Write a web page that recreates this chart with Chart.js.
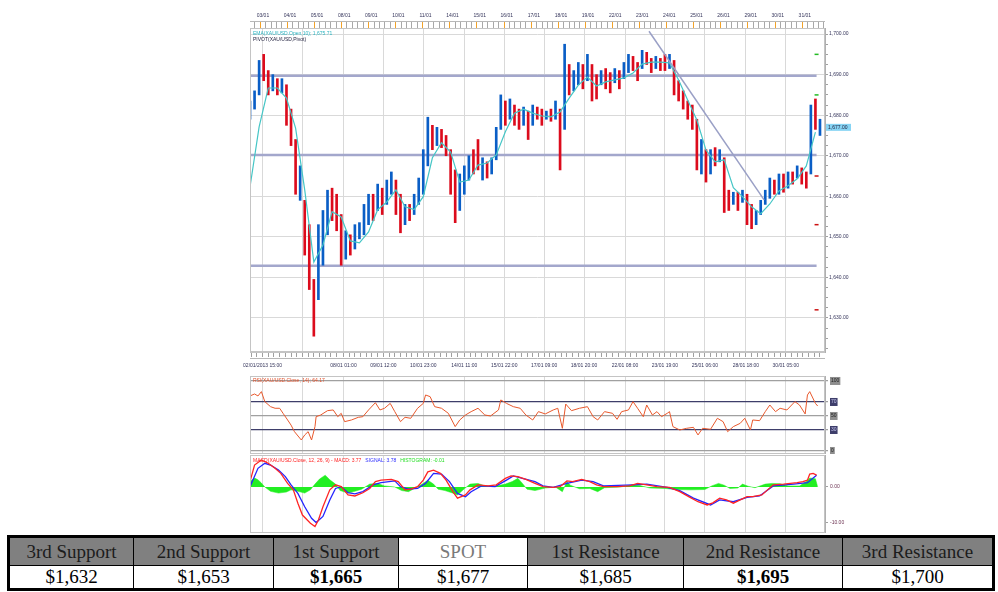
<!DOCTYPE html>
<html>
<head>
<meta charset="UTF-8">
<title>XAU/USD hourly – pivots, RSI, MACD</title>
<script src="https://cdn.jsdelivr.net/npm/chart.js"></script>
<style>
  body { margin: 0; background: #fff; width: 998px; height: 592px; position: relative; overflow: hidden; }
  canvas { position: absolute; }
  #priceChart { left: 240px; top: 0; }
  #rsiChart { left: 240px; top: 376px; }
  #macdChart { left: 240px; top: 455px; }
  #levels {
    position: absolute; left: 7px; top: 535px; width: 987px;
    border-collapse: collapse; table-layout: fixed;
    border: 3px solid #000;
    font-family: 'Liberation Serif', 'DejaVu Serif', serif; font-size: 19px;
  }
  #levels td { border: 1.5px solid #000; text-align: center; padding: 0; line-height: 20px; }
  #levels tr.head td { background: #808080; color: #1c1c1c; height: 27px; }
  #levels tr.head td.spot { background: #fff; color: #7a7a7a; }
  #levels tr.vals td { background: #fff; color: #000; height: 22px; }
  #levels tr.vals td.strong { font-weight: bold; }
</style>
</head>
<body>

<canvas id="priceChart" width="612" height="376"></canvas>
<canvas id="rsiChart" width="612" height="78"></canvas>
<canvas id="macdChart" width="612" height="78"></canvas>

<table id="levels">
  <colgroup>
    <col style="width:125px"><col style="width:140px"><col style="width:125px"><col style="width:129px">
    <col style="width:156px"><col style="width:159px"><col style="width:151px">
  </colgroup>
  <tr class="head"></tr>
  <tr class="vals"></tr>
</table>

<script>
// x values are trading hours counted from 02/01 15:00
const xMax = 504.4;

// price bars, one every 4 hours: [open, close]
const barStep = 4;
const barOpen = [
  1679, 1681.5, 1685, 1695, 1691, 1686, 1689, 1685.5, 1687.5, 1681.5,
  1674, 1659, 1659, 1653, 1639.5, 1634.5, 1643, 1650.5, 1662, 1660.5,
  1655.5, 1644.5, 1650.5, 1647, 1649.5, 1650.5, 1653, 1660.5, 1656.5, 1662,
  1658, 1660.5, 1664, 1660.5, 1653, 1658, 1655.5, 1658, 1660.5, 1667.5,
  1677.5, 1672.5, 1676.5, 1675, 1671.5, 1666.5, 1656.5, 1660.5, 1664, 1671.5,
  1674, 1664, 1668.5, 1665.5, 1669, 1676.5, 1683.5, 1679, 1682.5, 1681.5,
  1677.5, 1681, 1677.5, 1682, 1681.5, 1679, 1681.5, 1679, 1681.5, 1676.5,
  1692.5, 1686, 1687.5, 1692.5, 1688.5, 1692.5, 1690, 1687.5, 1691.5, 1690.5,
  1688, 1691, 1689, 1690.5, 1694.5, 1693, 1691.5, 1695.5, 1694, 1691.5,
  1694, 1695, 1691.5, 1693.5, 1688.5, 1686, 1683.5, 1682.5, 1679, 1665.5,
  1671.5, 1665.5, 1672, 1668.5, 1669.5, 1661.5, 1658, 1661, 1658.5, 1660.5,
  1658, 1653, 1655.5, 1658, 1659.5, 1664, 1660.5, 1665.5, 1662, 1666,
  1664.5, 1667, 1666, 1665.5, 1684, 1675
];
const barClose = [
  1683.5, 1686, 1693.5, 1688.5, 1685, 1690, 1685, 1689, 1677.5, 1672.5,
  1660.5, 1667.5, 1645.5, 1637, 1625.5, 1653, 1656.5, 1661.5, 1654, 1651.5,
  1643, 1651.5, 1645.5, 1653, 1653.5, 1658, 1660.5, 1654, 1663, 1655.5,
  1664, 1666, 1655.5, 1651, 1658, 1654, 1660.5, 1664.5, 1671.5, 1679.5,
  1671.5, 1677, 1672, 1670, 1660.5, 1653.5, 1665.5, 1667.5, 1670, 1665.5,
  1666.5, 1669.5, 1664.5, 1669.5, 1677, 1685, 1677.5, 1684, 1677.5, 1676.5,
  1682, 1674, 1682.5, 1679, 1677.5, 1681, 1678.5, 1683.5, 1666.5, 1697.5,
  1685, 1691, 1693, 1686.5, 1695, 1683.5, 1684, 1691, 1686.5, 1685.5,
  1691.5, 1686.5, 1693, 1695, 1691, 1688.5, 1696, 1692.5, 1690.5, 1694.5,
  1691, 1691, 1695, 1685, 1683.5, 1681.5, 1679, 1676.5, 1666.5, 1674,
  1663.5, 1671.5, 1667.5, 1671.5, 1656, 1656.5, 1661, 1656.5, 1661.5, 1653,
  1652, 1656.5, 1659, 1661.5, 1664.5, 1660.5, 1665.5, 1661, 1666, 1663,
  1667.5, 1663, 1662, 1682.5, 1676.5, 1679
];

// EMA(Open,10), one value every 8 hours
const emaStep = 8;
const emaValues = [
  1662.3, 1677.1, 1686.7, 1686.7, 1684.2, 1676.8, 1661.6, 1643.8, 1648, 1656.2,
  1654.9, 1649, 1648.5, 1651.2, 1656.7, 1658.6, 1661.6, 1657.4, 1656.7, 1659.9,
  1669.5, 1673.2, 1670.9, 1663.5, 1664, 1667.7, 1668.2, 1670.2, 1675.9, 1680.5,
  1681.5, 1680.5, 1679.8, 1679.6, 1680.8, 1684.2, 1687.4, 1689.4, 1687.2, 1688.2,
  1688.7, 1689.2, 1690.4, 1692.6, 1693.1, 1693.1, 1692.9, 1688.7, 1683.7, 1678.8,
  1671.4, 1668.5, 1669, 1662.1, 1659.9, 1657.4, 1655.7, 1658.1, 1661.3, 1662.6,
  1664.3, 1667.5, 1675.8
];
const emaLast = '1,675.71';

const pivotLevels = [1689.7, 1670.2, 1642.9];
const pivotEnd = 497;
const trendHours = [350, 451];
const trendPrices = [1700.7, 1659.1];

// key levels (also used for the table)
const levelNames = ['3rd Support', '2nd Support', '1st Support', 'SPOT', '1st Resistance', '2nd Resistance', '3rd Resistance'];
const levelValues = [1632, 1653, 1665, 1677, 1685, 1695, 1700];
const boldLevels = ['1st Support', '2nd Resistance'];
const supportMarks = [1632, 1653, 1665];
const resistanceMarks = [1685, 1695];
const markerHour = 497;
const spotPrice = 1677;

// axis labels
const dayLabels = ['03/01', '04/01', '05/01', '08/01', '09/01', '10/01', '11/01', '14/01', '15/01', '16/01', '17/01',
                   '18/01', '19/01', '22/01', '23/01', '24/01', '25/01', '26/01', '29/01', '30/01', '31/01'];
const firstDayHour = 9;
const timeLabels = ['02/01/2013 15:00', '', '08/01 01:00', '09/01 12:00', '10/01 23:00', '14/01 11:00', '15/01 22:00',
                    '17/01 09:00', '18/01 20:00', '22/01 08:00', '23/01 19:00', '25/01 06:00', '28/01 18:00', '30/01 05:00'];
const timeHours = [11, 46, 82, 117, 152, 188, 223, 258, 293, 329, 364, 399, 435, 470];

// RSI(14)
const rsiHours = [0, 4, 7, 10, 13, 18, 22, 26, 29, 33, 36, 39, 45, 48, 51, 54, 57, 58, 62, 68,
  73, 77, 80, 83, 89, 95, 99, 104, 110, 114, 118, 123, 127, 132, 136, 141, 147, 152, 154, 158,
  162, 168, 174, 180, 184, 189, 194, 200, 206, 211, 218, 220, 225, 231, 237, 242, 248, 253, 259, 266,
  270, 274, 277, 282, 289, 296, 301, 305, 311, 318, 322, 326, 332, 336, 340, 345, 348, 353, 357, 361,
  366, 368, 371, 377, 383, 389, 393, 397, 404, 410, 415, 419, 424, 430, 434, 439, 441, 447, 452, 456,
  461, 465, 471, 478, 482, 487, 489, 491, 496, 498];
const rsiValues = [78.6, 81.4, 78.6, 84.8, 70.5, 63.3, 61, 61, 53.8, 44.3, 37, 27.6, 15.7, 22.9, 27.6, 15.7, 34.8, 49, 51.4, 57.6,
  58.6, 49, 53.8, 41.9, 44.3, 48.1, 49, 58.6, 69, 58.6, 61, 68, 56.2, 41.9, 48.1, 46.7, 61, 68, 80, 77.6,
  63.3, 61, 53.8, 34.8, 44.3, 51.4, 56.2, 61, 51.4, 50, 58.6, 72.9, 68, 63.3, 61, 51.4, 44.3, 56.2, 52.9, 58.6,
  61, 32.4, 67, 57.6, 61, 63.3, 49, 44.3, 56.2, 53.8, 45.2, 56.2, 58.6, 70.5, 61, 49, 65.7, 51.4, 56.2, 49,
  53.8, 56.2, 34.8, 30, 32.4, 33.8, 22.9, 32.4, 31, 46.7, 41.9, 27.6, 34.8, 39.5, 46.7, 30, 44.3, 43.3, 56.2, 65.7,
  56.2, 61, 58.6, 70.5, 65.7, 52.9, 80, 84.8, 68, 64.2];
const rsiLevels = [0, 30, 50, 70, 100];

// MACD(12,26,9)
const macdHours = [0, 4, 10, 16, 22, 27, 33, 38, 42, 46, 53, 57, 60, 64, 70, 75, 80, 86, 92, 99,
  105, 110, 115, 124, 130, 136, 141, 147, 152, 156, 161, 167, 172, 178, 182, 189, 193, 200, 209, 216,
  224, 229, 235, 242, 250, 257, 266, 272, 278, 283, 291, 298, 304, 310, 322, 333, 340, 348, 357, 368,
  377, 386, 393, 401, 406, 412, 418, 424, 430, 436, 441, 449, 454, 459, 468, 480, 485, 489, 491, 494, 497];
const macdValues = [1.5, 6.1, 7.5, 6.6, 5.2, 3.8, 1.0, -0.8, -4.5, -7.8, -10.1, -11.0, -9.2, -5.5, -0.8, 0.6, 0.1, -2.2, -2.5, -1.6,
  -0.4, 1.5, 1.9, 2.1, 1.5, -0.8, -0.6, 0.1, 1.9, 4.2, 4.7, 3.8, 1.9, -1.3, -3.1, -2.2, -0.8, 0.6, 0.3, 0.6,
  2.4, 3.1, 2.9, 2.1, 1.0, 0.1, -0.1, 0.1, 1.7, 1.5, 2.1, 1.5, 0.6, 0.1, 0.1, 0.3, 1.0, 0.6, 0.1, -0.1,
  -1.3, -2.9, -4.1, -5.0, -4.4, -3.1, -3.6, -4.5, -3.6, -2.7, -2.7, -2.2, -0.8, 0.6, 0.8, 1.2, 1.5, 1.9, 3.6, 3.8, 3.3];
const signalHours = [0, 7, 13, 18, 25, 31, 36, 42, 48, 54, 58, 64, 70, 75, 80, 86, 92, 99, 108, 115,
  127, 132, 139, 147, 154, 161, 168, 175, 182, 189, 194, 203, 215, 225, 231, 239, 250, 257, 266, 278,
  291, 301, 310, 336, 348, 366, 377, 389, 404, 412, 424, 436, 447, 459, 477, 489, 497];
const signalValues = [0.1, 5.2, 6.6, 6.1, 4.7, 2.9, 0.6, -1.8, -5.5, -8.7, -9.9, -8.2, -3.6, -0.4, 0.1, -1.6, -1.9, -1.3, 0.6, 1.2,
  1.7, 0.1, -0.6, -0.4, 1.0, 3.8, 3.6, 1.5, -1.8, -2.7, -1.3, 0.3, 0.1, 1.9, 3.1, 2.4, 1.5, 0.3, -0.1, 1.0,
  1.9, 1.5, 0.3, 0.6, 0.8, -0.1, -1.0, -3.1, -5.0, -3.6, -4.1, -2.9, -2.5, 0.3, 0.8, 1.2, 3.3];
const histHours = [0, 4, 7, 10, 13, 18, 25, 32, 36, 42, 48, 53, 57, 61, 66, 70, 75, 79, 86, 92,
  98, 105, 112, 118, 127, 133, 139, 145, 151, 156, 161, 165, 171, 177, 182, 188, 193, 200, 206, 215,
  224, 230, 235, 239, 243, 250, 259, 268, 274, 278, 281, 289, 298, 305, 311, 325, 335, 342, 351, 364,
  373, 386, 399, 405, 411, 416, 421, 428, 432, 437, 443, 452, 458, 465, 472, 482, 488, 491, 496, 498];
const histValues = [1.5, 2.5, 2.0, 1.1, 0, -1.2, -1.7, -1.4, -0.8, -1.2, -1.7, -0.8, 0.8, 2.2, 3.3, 2.0, 0.8, -1.0, -1.7, -1.2,
  -0.6, 0.8, 1.0, 0.3, 0, -1.0, -1.3, -0.3, 0.8, 1.9, 0.8, -0.6, -1.0, -1.6, -2.2, -0.5, 0.8, 1.0, 0.3, 0.2,
  0.8, 1.5, 2.4, 1.0, -0.6, -1.0, -0.3, 0, -1.3, 1.5, 0.5, -0.5, -0.4, -1.3, -0.2, 0, 0.6, 0.4, -0.3, -0.4,
  -0.7, -0.8, -0.7, 0.3, 1.0, 0.5, -0.4, -0.3, 0.8, 0.2, -0.2, 0.8, 1.0, 0.9, 0.3, 0.3, 1.5, 2.5, 2.3, 0];
const macdLegend = [
  ['MACD(XAU/USD.Close, 12, 26, 9) - MACD: 3.77', '#ff2020'],
  ['SIGNAL: 3.78', '#2a2aff'],
  ['HISTOGRAM: -0.01', '#20dd20']
];

// ---------------------------------------------------------------
const upColor = '#0a5ec6';
const downColor = '#dc0b1c';
const gridColor = '#d9d9d9';
const axisText = '#34345a';
const tiny = { family: 'Liberation Sans', size: 5 };
Chart.defaults.font.family = 'Liberation Sans';

const pts = (xs, ys) => ys.map((v, i) => ({ x: xs[i], y: v }));
const fmt = v => v.toLocaleString('en-US', { minimumFractionDigits: 2, maximumFractionDigits: 2 });
const majorX = v => timeHours.includes(v);

// ruler ticks
const dayHours = dayLabels.map((d, k) => firstDayHour + 24 * k);
const topTicks = [];
for (let h = firstDayHour - 4.8; h <= xMax; h += 4.8) topTicks.push(Math.round(h * 10) / 10);
const bottomTicks = [1, 6];
timeHours.forEach(h => { for (let j = 0; j < 7; j++) if (h + 5 * j <= xMax) bottomTicks.push(h + 5 * j); });
const priceTicks = [];
for (let p = 1622.5; p <= 1700; p += 2.5) priceTicks.push(p);

function panelX(extra) {
  return Object.assign({
    type: 'linear', min: 0, max: xMax, offset: false,
    afterBuildTicks: s => { s.ticks = timeHours.map(v => ({ value: v })); },
    ticks: { display: false },
    grid: { color: gridColor, drawTicks: false, offset: false },
    border: { display: false },
    afterFit: s => { s.height = 0; s.paddingLeft = 0; s.paddingRight = 0; }
  }, extra || {});
}

const frame = {
  id: 'frame',
  afterDraw(chart) {
    const { ctx, chartArea: a } = chart;
    ctx.save();
    ctx.strokeStyle = '#c4c4c4';
    ctx.lineWidth = 1;
    ctx.strokeRect(a.left + 0.5, a.top + 0.5, a.width - 1, a.height - 1);
    ctx.restore();
  }
};

// ---------------- price panel ----------------
const priceExtras = {
  id: 'priceExtras',
  afterDraw(chart) {
    const { ctx, chartArea: a, scales } = chart;
    ctx.save();
    // rulers above and below the plot
    ctx.strokeStyle = '#b8b8b8';
    ctx.lineWidth = 1;
    ctx.beginPath();
    ctx.moveTo(a.left, a.top - 6.5); ctx.lineTo(a.right, a.top - 6.5);
    ctx.moveTo(a.left, a.bottom + 6.5); ctx.lineTo(a.right, a.bottom + 6.5);
    ctx.stroke();
    // indicator legend
    ctx.font = '5px "Liberation Sans"';
    ctx.textBaseline = 'middle';
    ctx.fillStyle = '#2cb4c0';
    ctx.fillText('EMA(XAU/USD.Open,10); ' + emaLast, a.left + 3, a.top + 6);
    ctx.fillStyle = '#1e1e3c';
    ctx.fillText('PIVOT(XAU/USD,Pivot)', a.left + 3, a.top + 12);
    // spot price tag on the axis
    const y = scales.y.getPixelForValue(spotPrice);
    ctx.fillStyle = '#86d4f4';
    ctx.fillRect(a.right + 1, y - 3.5, 25, 7);
    ctx.fillStyle = '#1e1e3c';
    ctx.fillText(fmt(spotPrice), a.right + 3, y);
    ctx.restore();
  }
};

new Chart(document.getElementById('priceChart'), {
  type: 'bar',
  data: {
    datasets: [
      ...pivotLevels.map(p => ({
        type: 'line', data: [{ x: 0, y: p }, { x: pivotEnd, y: p }],
        borderColor: '#a3a7cc', borderWidth: 2.5, pointRadius: 0, order: 6
      })),
      {
        type: 'bar',
        data: barOpen.map((o, i) => ({ x: i * barStep, y: [o, barClose[i]] })),
        backgroundColor: c => (c.raw && c.raw.y[1] >= c.raw.y[0]) ? upColor : downColor,
        barThickness: 2, borderWidth: 0, grouped: false, order: 5
      },
      {
        type: 'line', data: emaValues.map((v, i) => ({ x: i * emaStep, y: v })),
        borderColor: '#45c6c6', borderWidth: 1.2, pointRadius: 0, tension: 0, order: 3
      },
      {
        type: 'line', data: pts(trendHours, trendPrices),
        borderColor: '#9aa0c6', borderWidth: 1.5, pointRadius: 0, order: 2
      },
      {
        type: 'line', showLine: false,
        data: [...resistanceMarks, ...supportMarks].map(v => ({ x: markerHour, y: v })),
        pointStyle: 'line', pointRadius: 2, pointBorderWidth: 1.5,
        pointBorderColor: [...resistanceMarks.map(() => '#22bb22'), ...supportMarks.map(() => '#cc1010')],
        order: 1
      }
    ]
  },
  options: {
    responsive: false, animation: false, devicePixelRatio: 1,
    layout: { padding: { left: 10, right: 0, top: 0, bottom: 0 } },
    plugins: { legend: { display: false }, tooltip: { enabled: false } },
    scales: {
      x: {
        type: 'linear', position: 'bottom', min: 0, max: xMax, offset: false,
        afterBuildTicks: s => { s.ticks = bottomTicks.map(v => ({ value: v })); },
        ticks: {
          autoSkip: false, maxRotation: 0, font: tiny, color: axisText, padding: 6,
          callback: v => { const i = timeHours.indexOf(v); return i >= 0 ? timeLabels[i] : ''; }
        },
        grid: {
          offset: false, tickLength: 5, tickColor: '#a0a0a0',
          color: c => (c.tick && majorX(c.tick.value)) ? gridColor : 'rgba(0,0,0,0)'
        },
        border: { color: '#c4c4c4' },
        afterFit: s => { s.height = 24; s.paddingLeft = 0; s.paddingRight = 0; }
      },
      xTop: {
        type: 'linear', position: 'top', min: 0, max: xMax,
        afterBuildTicks: s => { s.ticks = topTicks.map(v => ({ value: v })); },
        ticks: {
          autoSkip: false, maxRotation: 0, font: tiny, color: axisText, padding: 3,
          callback: v => { const i = dayHours.indexOf(v); return i >= 0 ? dayLabels[i] : ''; }
        },
        grid: {
          drawOnChartArea: false, tickLength: 6, tickWidth: 1,
          tickColor: c => (c.tick && dayHours.includes(c.tick.value)) ? '#f2a228' : '#a8a8a8'
        },
        border: { color: '#c4c4c4' },
        afterFit: s => { s.height = 28; s.paddingLeft = 0; s.paddingRight = 0; }
      },
      y: {
        type: 'linear', position: 'right', min: 1621.6, max: 1701.5,
        afterBuildTicks: s => { s.ticks = priceTicks.map(v => ({ value: v })); },
        ticks: {
          autoSkip: false, font: tiny, color: axisText, padding: 1,
          callback: v => v % 10 === 0 ? fmt(v) : ''
        },
        grid: {
          tickLength: 3, tickColor: '#a0a0a0',
          color: c => (c.tick && c.tick.value % 10 === 0) ? gridColor : 'rgba(0,0,0,0)'
        },
        border: { color: '#b0b0b0' },
        afterFit: s => { s.width = 27; s.paddingTop = 0; s.paddingBottom = 0; }
      }
    }
  },
  plugins: [frame, priceExtras]
});

// ---------------- RSI panel ----------------
const rsiExtras = {
  id: 'rsiExtras',
  afterDraw(chart) {
    const { ctx, chartArea: a } = chart;
    ctx.save();
    ctx.font = '5px "Liberation Sans"';
    ctx.textBaseline = 'middle';
    ctx.fillStyle = '#e0502a';
    ctx.fillText('RSI(XAU/USD.Close, 14); 64.17', a.left + 3, a.top + 5);
    ctx.restore();
  }
};

new Chart(document.getElementById('rsiChart'), {
  type: 'line',
  data: {
    datasets: [{
      data: pts(rsiHours, rsiValues),
      borderColor: '#e8582c', borderWidth: 1, pointRadius: 0, tension: 0
    }]
  },
  options: {
    responsive: false, animation: false, devicePixelRatio: 1,
    layout: { padding: { left: 10, right: 0, top: 0, bottom: 0 } },
    plugins: { legend: { display: false }, tooltip: { enabled: false } },
    scales: {
      x: panelX(),
      y: {
        type: 'linear', position: 'right', min: -4.3, max: 107.1,
        afterBuildTicks: s => { s.ticks = rsiLevels.map(v => ({ value: v })); },
        ticks: {
          autoSkip: false, font: tiny, padding: 3,
          showLabelBackdrop: true, backdropPadding: 1,
          backdropColor: c => (c.tick.value === 30 || c.tick.value === 70) ? '#3e3e6a' : '#8e8e8e',
          color: c => (c.tick.value === 30 || c.tick.value === 70) ? '#c8c8f0' : '#202020'
        },
        grid: {
          tickLength: 3, lineWidth: 1.2, tickColor: '#a0a0a0',
          color: c => (c.tick && (c.tick.value === 30 || c.tick.value === 70)) ? '#3e3e6a' : '#a0a0a0'
        },
        border: { color: '#b0b0b0' },
        afterFit: s => { s.width = 27; s.paddingTop = 0; s.paddingBottom = 0; }
      }
    }
  },
  plugins: [frame, rsiExtras]
});

// ---------------- MACD panel ----------------
const macdExtras = {
  id: 'macdExtras',
  afterDraw(chart) {
    const { ctx, chartArea: a } = chart;
    ctx.save();
    ctx.font = '5px "Liberation Sans"';
    ctx.textBaseline = 'middle';
    let x = a.left + 3;
    macdLegend.forEach(([text, color]) => {
      ctx.fillStyle = color;
      ctx.fillText(text, x, a.top + 6);
      x += ctx.measureText(text).width + 4;
    });
    ctx.restore();
  }
};

new Chart(document.getElementById('macdChart'), {
  type: 'line',
  data: {
    datasets: [
      {
        data: pts(histHours, histValues), fill: 'origin',
        backgroundColor: '#22ee22', borderColor: '#22ee22', borderWidth: 0.5, pointRadius: 0, order: 3
      },
      { data: pts(signalHours, signalValues), borderColor: '#2424ff', borderWidth: 1.3, pointRadius: 0, order: 2 },
      { data: pts(macdHours, macdValues), borderColor: '#ff2424', borderWidth: 1.3, pointRadius: 0, order: 1 }
    ]
  },
  options: {
    responsive: false, animation: false, devicePixelRatio: 1,
    layout: { padding: { left: 10, right: 0, top: 0, bottom: 0 } },
    plugins: { legend: { display: false }, tooltip: { enabled: false } },
    scales: {
      x: panelX(),
      y: {
        type: 'linear', position: 'right', min: -12.8, max: 8.9,
        afterBuildTicks: s => { s.ticks = [-10, 0].map(v => ({ value: v })); },
        ticks: { autoSkip: false, font: tiny, color: '#6a3050', padding: 2, callback: v => fmt(v) },
        grid: { tickLength: 3, tickColor: '#a0a0a0', color: 'rgba(0,0,0,0)' },
        border: { color: '#b0b0b0' },
        afterFit: s => { s.width = 27; s.paddingTop = 0; s.paddingBottom = 0; }
      }
    }
  },
  plugins: [frame, macdExtras]
});

// ---------------- levels table ----------------
const headRow = document.querySelector('#levels tr.head');
const valRow = document.querySelector('#levels tr.vals');
levelNames.forEach((name, i) => {
  const h = document.createElement('td');
  h.textContent = name;
  if (name === 'SPOT') h.className = 'spot';
  headRow.appendChild(h);
  const v = document.createElement('td');
  v.textContent = '$' + levelValues[i].toLocaleString('en-US');
  if (boldLevels.includes(name)) v.className = 'strong';
  valRow.appendChild(v);
});
</script>

</body>
</html>
